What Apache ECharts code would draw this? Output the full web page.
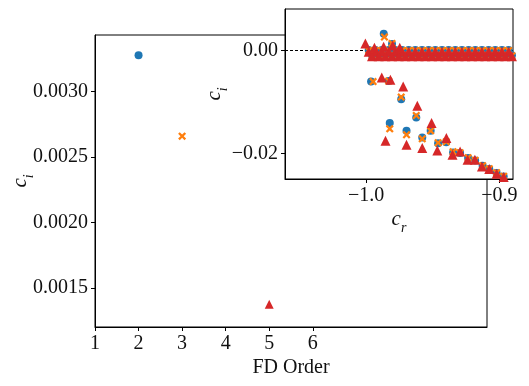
<!DOCTYPE html>
<html>
<head>
<meta charset="utf-8">
<script src="https://cdn.jsdelivr.net/npm/echarts@6/dist/echarts.min.js"></script>
<style>
  html, body { margin: 0; padding: 0; background: #fff; }
  #main { width: 529px; height: 386px; }
</style>
</head>
<body>
<div id="main"></div>
<script>
// main plot: largest c_i for each FD order
var fdOrders = [2, 3, 5];
var maxCi = [0.00328, 0.00266, 0.001375];
var mainXTicks = [1, 2, 3, 4, 5, 6];
var mainYTicks = [0.0015, 0.0020, 0.0025, 0.0030];

// inset: spectrum, band of eigenvalues near c_i = 0
var bandCrUpper = [-0.998, -0.993, -0.988, -0.983, -0.978, -0.973, -0.968, -0.963, -0.958, -0.953, -0.948,
                   -0.943, -0.938, -0.933, -0.928, -0.923, -0.918, -0.913, -0.908, -0.903, -0.898, -0.893];
var bandCrLower = [-0.9955, -0.9905, -0.9855, -0.9805, -0.9755, -0.9705, -0.9655, -0.9605, -0.9555, -0.9505, -0.9455,
                   -0.9405, -0.9355, -0.9305, -0.9255, -0.9205, -0.9155, -0.9105, -0.9055, -0.9005, -0.8955, -0.8905];
var blueBandUpper = [0.0001, 0.0001, 0.0001, 0.0001, 0.0001, 0.0001, 0.0001, 0.0001, 0.0001, 0.0001, 0.0001,
                     0.0001, 0.0001, 0.0001, 0.0001, 0.0001, 0.0001, 0.0001, 0.0001, 0.0001, 0.0001, 0.0001];
var blueBandLower = [-0.0009, -0.0009, -0.0009, -0.0009, -0.0009, -0.0009, -0.0009, -0.0009, -0.0009, -0.0009, -0.0009,
                     -0.0009, -0.0009, -0.0009, -0.0009, -0.0009, -0.0009, -0.0009, -0.0009, -0.0009, -0.0009, -0.0009];
var orangeBandUpper = [0.0, 0.0, 0.0, 0.0, 0.0, 0.0, 0.0, 0.0, 0.0, 0.0, 0.0,
                       0.0, 0.0, 0.0, 0.0, 0.0, 0.0, 0.0, 0.0, 0.0, 0.0, 0.0];
var orangeBandLower = [-0.0010, -0.0010, -0.0010, -0.0010, -0.0010, -0.0010, -0.0010, -0.0010, -0.0010, -0.0010, -0.0010,
                       -0.0010, -0.0010, -0.0010, -0.0010, -0.0010, -0.0010, -0.0010, -0.0010, -0.0010, -0.0010, -0.0010];
var redBandUpper = [-0.0002, -0.0002, -0.0002, -0.0002, -0.0002, -0.0002, -0.0002, -0.0002, -0.0002, -0.0002, -0.0002,
                    -0.0002, -0.0002, -0.0002, -0.0002, -0.0002, -0.0002, -0.0002, -0.0002, -0.0002, -0.0002, -0.0002];
var redBandLower = [-0.0011, -0.0011, -0.0011, -0.0011, -0.0011, -0.0011, -0.0011, -0.0011, -0.0011, -0.0011, -0.0011,
                    -0.0011, -0.0011, -0.0011, -0.0011, -0.0011, -0.0011, -0.0011, -0.0011, -0.0011, -0.0011, -0.0011];

// inset: points away from the band
var blueCr = [-0.9867, -0.9805, -0.9962, -0.9830, -0.9736, -0.9623, -0.9822, -0.9696, -0.9578, -0.9515,
              -0.9459, -0.9398, -0.9347, -0.9294, -0.9234, -0.9181, -0.9125, -0.9075, -0.9020, -0.8967];
var blueCi = [0.00326, 0.0013, -0.0060, -0.00587, -0.00941, -0.01297, -0.01406, -0.01555, -0.01684, -0.01555,
              -0.01797, -0.01777, -0.01975, -0.01986, -0.02083, -0.02130, -0.02232, -0.02296, -0.02374, -0.02440];
var orangeCr = [-0.9862, -0.9805, -0.9947, -0.9830, -0.9736, -0.9623, -0.9822, -0.9696, -0.9578, -0.9515,
                -0.9459, -0.9398, -0.9347, -0.9294, -0.9234, -0.9181, -0.9125, -0.9075, -0.9020, -0.8967];
var orangeCi = [0.00264, 0.0014, -0.0060, -0.00587, -0.00902, -0.01258, -0.01516, -0.01632, -0.01710, -0.01555,
                -0.01787, -0.01768, -0.01961, -0.01981, -0.02077, -0.02126, -0.02232, -0.02290, -0.02368, -0.02436];
var redCr = [-1.0005, -0.9937, -0.9868, -0.9800, -0.9747, -0.9882, -0.9817, -0.9721, -0.9615, -0.9508, -0.9397, -0.9294,
             -0.9854, -0.9696, -0.9578, -0.9465, -0.9351, -0.9238, -0.9183, -0.9130, -0.9075, -0.9020, -0.8967];
var redCi = [0.00137, 0.00056, 0.00075, 0.0010, 0.00056, -0.00523, -0.00567, -0.00697, -0.01071, -0.01406, -0.01696, -0.01955,
             -0.01748, -0.01826, -0.01890, -0.01936, -0.02019, -0.02116, -0.02116, -0.02246, -0.02296, -0.02387, -0.02451];
var insetXTicks = [-1.0, -0.9];
var insetYTicks = [0.0, -0.02];

var BLUE = '#1f77b4', ORANGE = '#ff7f0e', RED = '#d62728';
var FONT = 'Liberation Serif';
var XMARK = 'path://M2,0L5,3L8,0L10,2L7,5L10,8L8,10L5,7L2,10L0,8L3,5L0,2Z';

function zip(xs, ys) {
    return xs.map(function (x, i) { return [x, ys[i]]; });
}
function minus(s) { return s.replace('-', '\u2212'); }

var labelStyle = { color: '#111', fontFamily: FONT, fontSize: 20, margin: 7 };
var nameRich = {
    c: { fontFamily: FONT, fontStyle: 'italic', fontSize: 21, lineHeight: 21, verticalAlign: 'top', color: '#111' },
    s: { fontFamily: FONT, fontStyle: 'italic', fontSize: 14, lineHeight: 14, padding: [12, 0, 0, 0], verticalAlign: 'top', color: '#111' }
};
var axisLine = { show: true, onZero: false, lineStyle: { color: '#000', width: 1 } };
var tick = { length: 4, lineStyle: { color: '#000', width: 1 } };

var chart = echarts.init(document.getElementById('main'), null, { renderer: 'canvas' });

var option = {
    backgroundColor: '#fff',
    animation: false,
    grid: [
        { left: 95, top: 35, width: 392, height: 292, outerBoundsMode: 'none', containLabel: false,
          show: true, borderColor: '#000', borderWidth: 1, backgroundColor: '#fff' },
        { left: 285, top: 9, width: 228, height: 170, outerBoundsMode: 'none', containLabel: false,
          show: true, borderColor: '#000', borderWidth: 1, backgroundColor: '#fff', z: 5 }
    ],
    xAxis: [
        {
            gridIndex: 0, type: 'value', min: 1, max: 10,
            name: 'FD Order', nameLocation: 'middle', nameGap: 31, nameMoveOverlap: false,
            nameTextStyle: { fontFamily: FONT, fontSize: 20, color: '#111' },
            axisLine: axisLine,
            axisTick: Object.assign({ show: true, customValues: mainXTicks }, tick),
            axisLabel: Object.assign({ customValues: mainXTicks }, labelStyle),
            splitLine: { show: false }
        },
        {
            gridIndex: 1, type: 'value', min: -1.0608, max: -0.8897, z: 6,
            name: '{c|c}{s|r}', nameLocation: 'middle', nameGap: 30, nameMoveOverlap: false,
            nameTextStyle: { rich: nameRich },
            axisLine: axisLine,
            axisTick: Object.assign({ show: true, customValues: insetXTicks }, tick),
            axisLabel: Object.assign({ customValues: insetXTicks, formatter: function (v) { return minus(v.toFixed(1)); } }, labelStyle),
            splitLine: { show: false }
        }
    ],
    yAxis: [
        {
            gridIndex: 0, type: 'value', min: 0.0012, max: 0.003434,
            name: '{c|c}{s|i}', nameLocation: 'middle', nameGap: 64, nameRotate: 90, nameMoveOverlap: false,
            nameTextStyle: { rich: nameRich },
            axisLine: axisLine,
            axisTick: Object.assign({ show: true, customValues: mainYTicks }, tick),
            axisLabel: Object.assign({ customValues: mainYTicks, formatter: function (v) { return v.toFixed(4); } }, labelStyle),
            splitLine: { show: false }
        },
        {
            gridIndex: 1, type: 'value', min: -0.0249, max: 0.00807, z: 6,
            name: '{c|c}{s|i}', nameLocation: 'middle', nameGap: 60, nameRotate: 90, nameMoveOverlap: false,
            nameTextStyle: { rich: nameRich },
            axisLine: axisLine,
            axisTick: Object.assign({ show: true, customValues: insetYTicks }, tick),
            axisLabel: Object.assign({ customValues: insetYTicks, formatter: function (v) { return minus(v.toFixed(2)); } }, labelStyle),
            splitLine: { show: false }
        }
    ],
    series: [
        // main plot
        { type: 'scatter', xAxisIndex: 0, yAxisIndex: 0, symbol: 'circle', symbolSize: 8,
          itemStyle: { color: BLUE, opacity: 1 }, data: [[fdOrders[0], maxCi[0]]] },
        { type: 'scatter', xAxisIndex: 0, yAxisIndex: 0, symbol: XMARK, symbolSize: 8,
          itemStyle: { color: ORANGE, opacity: 1 }, data: [[fdOrders[1], maxCi[1]]] },
        { type: 'scatter', xAxisIndex: 0, yAxisIndex: 0, symbol: 'triangle', symbolSize: 9,
          itemStyle: { color: RED, opacity: 1 }, data: [[fdOrders[2], maxCi[2]]] },
        // inset
        { type: 'scatter', xAxisIndex: 1, yAxisIndex: 1, z: 10, symbol: 'circle', symbolSize: 8,
          itemStyle: { color: BLUE, opacity: 1 },
          data: zip(bandCrUpper, blueBandUpper).concat(zip(bandCrLower, blueBandLower), zip(blueCr, blueCi)) },
        { type: 'scatter', xAxisIndex: 1, yAxisIndex: 1, z: 11, symbol: XMARK, symbolSize: 8,
          itemStyle: { color: ORANGE, opacity: 1 },
          data: zip(bandCrUpper, orangeBandUpper).concat(zip(bandCrLower, orangeBandLower), zip(orangeCr, orangeCi)) },
        { type: 'scatter', xAxisIndex: 1, yAxisIndex: 1, z: 12, symbol: 'triangle', symbolSize: 10,
          itemStyle: { color: RED, opacity: 1 },
          data: zip(bandCrUpper, redBandUpper).concat(zip(bandCrLower, redBandLower), zip(redCr, redCi)) },
        { type: 'scatter', xAxisIndex: 1, yAxisIndex: 1, z: 13, data: [],
          markLine: {
              silent: true, symbol: 'none', label: { show: false },
              lineStyle: { color: '#000', width: 1, type: [3, 2] },
              data: [{ yAxis: 0 }]
          } }
    ]
};

chart.setOption(option);
</script>
</body>
</html>
